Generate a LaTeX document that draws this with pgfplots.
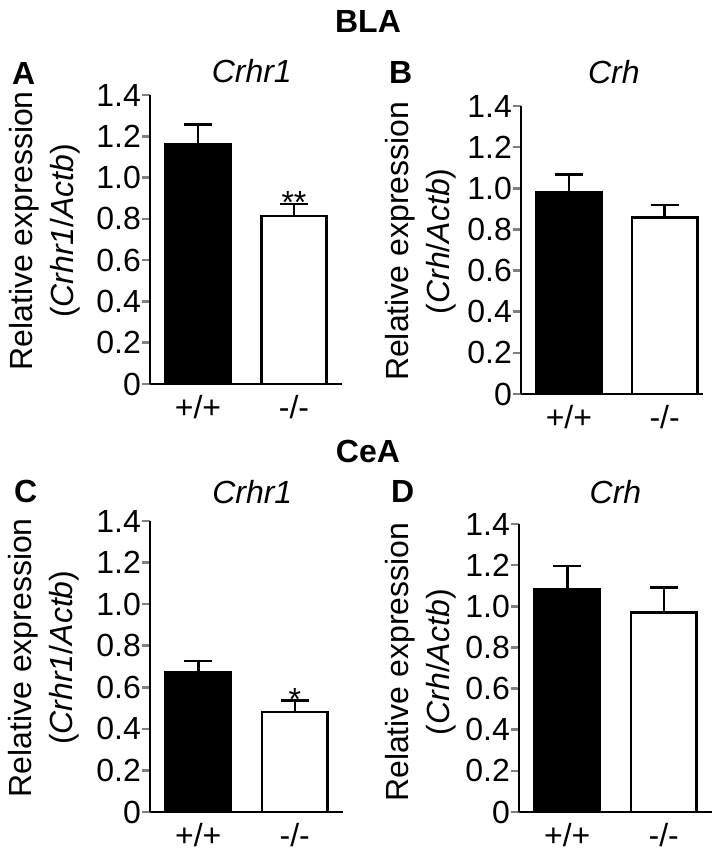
\documentclass[border=0pt]{standalone}
\usepackage{fontspec}
\setmainfont{Liberation Sans}
\usepackage{pgfplots}
\pgfplotsset{compat=1.18}
\newcommand{\fs}{\fontsize{32}{41}\selectfont}
\pgfplotsset{
  panel/.style={
    scale only axis,
    axis x line=bottom, axis y line=left,
    axis line style={line width=2.5pt,-},
    ymin=0, ymax=1.4,
    ytick={0,0.2,0.4,0.6,0.8,1.0,1.2,1.4},
    yticklabels={0,0.2,0.4,0.6,0.8,1.0,1.2,1.4},
    xtick={0,1}, xticklabels={+/+,-/-},
    major x tick style={draw=none},
    major y tick style={line width=2.5pt},
    tick align=outside, major tick length=8pt,
    every tick label/.append style={font=\fs},
    yticklabel style={inner sep=1pt},
    xticklabel style={inner sep=0pt, yshift=-3pt},
    ylabel style={align=center, font=\fs, anchor=center},
    title style={font=\fs\itshape, anchor=base},
    ybar, bar width=0.68, bar shift=0pt,
    clip=false,
  },
  eb/.style={line width=2.5pt, draw=black,
    error bars/.cd, y dir=plus, y explicit,
    error bar style={line width=2.5pt},
    error mark options={rotate=90, mark size=14pt, line width=2.5pt}},
}
\begin{document}
\begin{tikzpicture}
\useasboundingbox (0,0) rectangle (723pt,852pt);
\node[font=\fs\bfseries, anchor=base] at (368pt,819pt) {BLA};
\node[font=\fs\bfseries, anchor=base] at (368pt,389pt) {CeA};
\node[font=\fs\bfseries, anchor=base west, inner sep=0pt] at (12pt,767pt) {A};
\node[font=\fs\bfseries, anchor=base west, inner sep=0pt] at (389pt,768pt) {B};
\node[font=\fs\bfseries, anchor=base west, inner sep=0pt] at (14pt,349pt) {C};
\node[font=\fs\bfseries, anchor=base west, inner sep=0pt] at (391pt,349pt) {D};

% Panel A
\begin{axis}[panel, at={(150pt,468pt)}, anchor=south west, width=192pt, height=289pt,
  xmin=-0.5, xmax=1.5,
  title={Crhr1}, title style={at={(axis description cs:0.53,1)}, yshift=6pt},
  ylabel={Relative expression\\(\textit{Crhr1}/\textit{Actb})},
  ylabel style={at={(axis description cs:-0.55,0.53)}}]
\addplot[fill=black, eb] coordinates {(0,1.16) +- (0,0.098)};
\addplot[fill=white, eb] coordinates {(1,0.815) +- (0,0.056)};
\node[font=\fs, anchor=base] at (axis cs:1,0.825) {**};
\end{axis}

% Panel B
\begin{axis}[panel, at={(521pt,458pt)}, anchor=south west, width=182pt, height=288pt,
  xmin=-0.5, xmax=1.4,
  title={Crh}, title style={at={(axis description cs:0.51,1)}, yshift=16pt},
  ylabel={Relative expression\\(\textit{Crh}/\textit{Actb})},
  ylabel style={at={(axis description cs:-0.55,0.53)}}]
\addplot[fill=black, eb] coordinates {(0,0.983) +- (0,0.085)};
\addplot[fill=white, eb] coordinates {(1,0.857) +- (0,0.062)};
\end{axis}

% Panel C
\begin{axis}[panel, at={(150pt,40pt)}, anchor=south west, width=193pt, height=291pt,
  xmin=-0.5, xmax=1.5,
  title={Crhr1}, title style={at={(axis description cs:0.53,1)}, yshift=11pt},
  ylabel={Relative expression\\(\textit{Crhr1}/\textit{Actb})},
  ylabel style={at={(axis description cs:-0.55,0.53)}}]
\addplot[fill=black, eb] coordinates {(0,0.671) +- (0,0.056)};
\addplot[fill=white, eb] coordinates {(1,0.481) +- (0,0.056)};
\node[font=\fs, anchor=base] at (axis cs:1,0.487) {*};
\end{axis}

% Panel D
\begin{axis}[panel, at={(519pt,40pt)}, anchor=south west, width=193pt, height=288pt,
  xmin=-0.5, xmax=1.5,
  title={Crh}, title style={at={(axis description cs:0.5,1)}, yshift=14pt},
  ylabel={Relative expression\\(\textit{Crh}/\textit{Actb})},
  ylabel style={at={(axis description cs:-0.51,0.52)}}]
\addplot[fill=black, eb] coordinates {(0,1.084) +- (0,0.113)};
\addplot[fill=white, eb] coordinates {(1,0.971) +- (0,0.121)};
\end{axis}
\end{tikzpicture}
\end{document}
